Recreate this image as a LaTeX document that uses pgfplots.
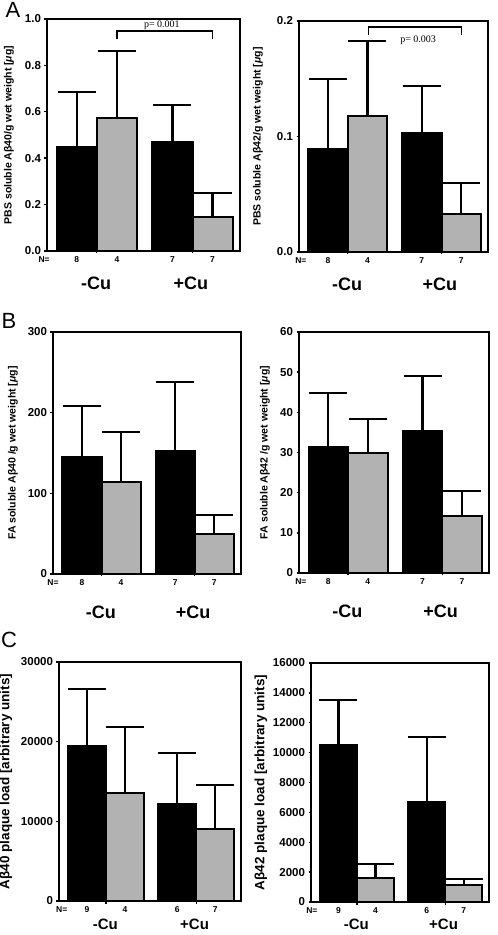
\documentclass[border=0pt]{standalone}
\usepackage{pgfplots}
\pgfplotsset{compat=1.18}
\usepackage{fontspec}
\setmainfont{Liberation Sans}
\newfontfamily\seriffont{Liberation Serif}
\definecolor{barGray}{RGB}{178,178,178}
\pgfplotsset{
  panel/.style={
    scale only axis, xmin=0, xmax=100, ymin=0,
    axis line style={line width=2.2pt},
    anchor=south west,
    ytick pos=left, xtick pos=bottom, tick align=outside, major tick length=2.5pt,
    every tick/.style={black, line width=1.4pt},
    xtick={25.8,75.4}, xticklabels={},
    yticklabel style={font=\bfseries\fontsize{11.5}{12}\selectfont},
    /pgf/number format/assume math mode=true,
    /pgf/number format/set thousands separator={},
    clip=false,
  },
  ylab/.style={ylabel style={font=\bfseries\fontsize{10.5}{11}\selectfont, at={([xshift=-#1pt]axis description cs:0,0.5)}, anchor=center}},
  /pgfplots/every error bar/.append style={line width=2.2pt, black},
  blk/.style={ybar, bar width=20.8, bar shift=0pt, fill=black, draw=black, line width=2pt,
    error bars/y dir=plus, error bars/y explicit,
    error bars/error mark=|,
    error bars/error bar style={line width=2.2pt, black},
    error bars/error mark options={line width=2pt, mark size=19pt, black}},
  gry/.style={ybar, bar width=20.8, bar shift=0pt, fill=barGray, draw=black, line width=2pt,
    error bars/y dir=plus, error bars/y explicit,
    error bars/error mark=|,
    error bars/error bar style={line width=2.2pt, black},
    error bars/error mark options={line width=2pt, mark size=19pt, black}},
}
\newcommand{\Nrow}[5]{%
  \node[font=\bfseries\fontsize{8.5}{8.5}\selectfont] at ([yshift=-8.5pt]axis cs:#1,0) {N=};
  \node[font=\bfseries\fontsize{8.5}{8.5}\selectfont] at ([yshift=-8.5pt]axis cs:15.4,0) {#2};
  \node[font=\bfseries\fontsize{8.5}{8.5}\selectfont] at ([yshift=-8.5pt]axis cs:36.2,0) {#3};
  \node[font=\bfseries\fontsize{8.5}{8.5}\selectfont] at ([yshift=-8.5pt]axis cs:65,0) {#4};
  \node[font=\bfseries\fontsize{8.5}{8.5}\selectfont] at ([yshift=-8.5pt]axis cs:85.8,0) {#5};
}
\newcommand{\Cu}[2]{%
  \node[font=\bfseries\fontsize{#2}{#2}\selectfont] at ([yshift=-#1pt]axis cs:25.5,0) {-Cu};
  \node[font=\bfseries\fontsize{#2}{#2}\selectfont] at ([yshift=-#1pt]axis cs:74.5,0) {+Cu};
}
\begin{document}
\begin{tikzpicture}
\path[use as bounding box] (0,0) rectangle (498pt,935pt);
\node[font=\fontsize{22}{22}\selectfont] at (13pt,925pt) {A};
\node[font=\fontsize{22}{22}\selectfont] at (9pt,614pt) {B};
\node[font=\fontsize{22}{22}\selectfont] at (9pt,295pt) {C};

% A left
\begin{axis}[panel, at={(47pt,684pt)}, width=193pt, height=232pt, ymax=1.0,
  ytick={0,0.2,0.4,0.6,0.8,1.0}, yticklabel style={/pgf/number format/.cd, fixed, fixed zerofill, precision=1},
  ylab=38, ylabel={PBS soluble Aβ40/g wet weight [\textit{μ}g]}]
\addplot[blk] coordinates {(15.4,0.448) +- (0,0.239) (65,0.471) +- (0,0.158)};
\addplot[gry] coordinates {(36.2,0.572) +- (0,0.290) (85.8,0.148) +- (0,0.101)};
\draw[line width=1.6pt] (axis cs:36.2,0.913) -- (axis cs:36.2,0.949) -- (axis cs:85.8,0.949) -- (axis cs:85.8,0.913);
\node[font=\seriffont\fontsize{10}{10}\selectfont] at (axis cs:59.5,0.974) {p= 0.001};
\Nrow{-1.5}{8}{4}{7}{7}
\Cu{32}{18}
\end{axis}

% A right
\begin{axis}[panel, at={(299pt,683pt)}, width=189pt, height=231pt, ymax=0.2,
  ytick={0,0.1,0.2}, yticklabel style={/pgf/number format/.cd, fixed, fixed zerofill, precision=1},
  ylab=41, ylabel={PBS soluble Aβ42/g wet weight [\textit{μ}g]}]
\addplot[blk] coordinates {(15.4,0.0891) +- (0,0.0606) (65,0.1028) +- (0,0.0413)};
\addplot[gry] coordinates {(36.2,0.1179) +- (0,0.0646) (85.8,0.0326) +- (0,0.0274)};
\draw[line width=1.6pt] (axis cs:36.8,0.1878) -- (axis cs:36.8,0.1948) -- (axis cs:86,0.1948) -- (axis cs:86,0.1878);
\node[font=\seriffont\fontsize{10}{10}\selectfont] at (axis cs:63,0.183) {p= 0.003};
\Nrow{1}{8}{4}{7}{7}
\Cu{32}{18}
\end{axis}

% B left
\begin{axis}[panel, at={(53pt,361pt)}, width=188pt, height=242pt, ymax=300,
  ytick={0,100,200,300},
  ylab=40, ylabel={FA soluble Aβ40 /g wet weight [\textit{μ}g]}]
\addplot[blk] coordinates {(15.4,145.2) +- (0,62.5) (65,152.3) +- (0,85.6)};
\addplot[gry] coordinates {(36.2,113.8) +- (0,62.1) (85.8,49.2) +- (0,23.6)};
\Nrow{0}{8}{4}{7}{7}
\Cu{38}{18}
\end{axis}

% B right
\begin{axis}[panel, at={(299pt,362pt)}, width=190pt, height=241pt, ymax=60,
  ytick={0,10,20,30,40,50,60},
  ylab=34, ylabel={FA soluble Aβ42 /g wet weight [\textit{μ}g]}]
\addplot[blk] coordinates {(15.4,31.3) +- (0,13.5) (65,35.4) +- (0,13.6)};
\addplot[gry] coordinates {(36.2,29.8) +- (0,8.6) (85.8,14.3) +- (0,6.2)};
\Nrow{1}{8}{4}{7}{7}
\Cu{38}{18}
\end{axis}

% C left
\begin{axis}[panel, at={(59pt,34pt)}, width=182pt, height=239pt, ymax=30000,
  ytick={0,10000,20000,30000}, scaled y ticks=false,
  yticklabel style={font=\bfseries\fontsize{11.5}{12}\selectfont},
  ylab=53, ylabel style={font=\bfseries\fontsize{13.5}{14}\selectfont},
  ylabel={Aβ40 plaque load [arbitrary units]}]
\addplot[blk] coordinates {(15.4,19429) +- (0,7145) (65,12159) +- (0,6393)};
\addplot[gry] coordinates {(36.2,13496) +- (0,8315) (85.8,9025) +- (0,5474)};
\Nrow{1.5}{9}{4}{6}{7}
\Cu{23}{15}
\end{axis}

% C right
\begin{axis}[panel, at={(311pt,33pt)}, width=178pt, height=239pt, ymax=16000,
  ytick={0,2000,4000,6000,8000,10000,12000,14000,16000}, scaled y ticks=false,
  yticklabel style={font=\bfseries\fontsize{11.5}{12}\selectfont},
  ylab=50, ylabel style={font=\bfseries\fontsize{13.5}{14}\selectfont},
  ylabel={Aβ42 plaque load [arbitrary units]}]
\addplot[blk] coordinates {(15.4,10481) +- (0,3026) (65,6720) +- (0,4339)};
\addplot[gry] coordinates {(36.2,1624) +- (0,935) (85.8,1113) +- (0,422)};
\Nrow{0.5}{9}{4}{6}{7}
\Cu{22}{15}
\end{axis}
\end{tikzpicture}
\end{document}
